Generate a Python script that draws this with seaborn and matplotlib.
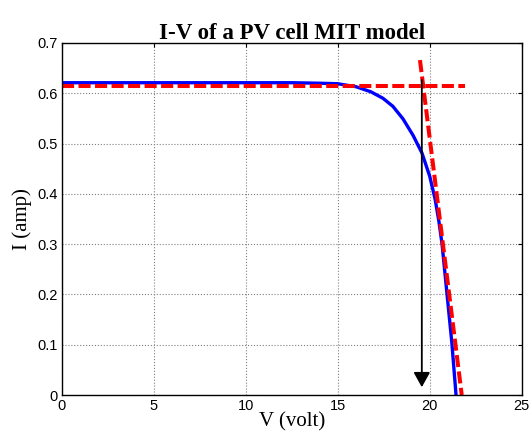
import numpy as np
import pandas as pd
import matplotlib
matplotlib.use("Agg")
import matplotlib.pyplot as plt
import seaborn as sns

# blue I-V curve
v_curve = [0, 5, 10, 12.5, 14, 15, 16.0, 16.8, 17.46, 18.0, 18.55, 19.1,
           19.58, 20.0, 20.29, 20.5, 20.67, 20.92, 21.2, 21.43]
i_curve = [0.621, 0.621, 0.621, 0.621, 0.62, 0.619, 0.613, 0.603, 0.59, 0.574,
           0.549, 0.516, 0.481, 0.435, 0.39, 0.345, 0.3, 0.208, 0.105, 0.0]

# red dashed asymptotes
v_flat = [0, 21.9]
i_flat = [0.614, 0.614]
v_slope = [19.47, 21.74]
i_slope = [0.666, 0.0]

# arrow at the knee
v_arrow = 19.57
i_arrow = [0.632, 0.01]

xticks = [0, 5, 10, 15, 20, 25]
yticks = [0, 0.1, 0.2, 0.3, 0.4, 0.5, 0.6, 0.7]

sns.set_style("white")
plt.rcParams['font.family'] = ['Liberation Sans', 'DejaVu Sans']
plt.rcParams['text.color'] = 'black'
plt.rcParams['axes.labelcolor'] = 'black'

fig = plt.figure(figsize=(5.3, 4.41), dpi=100)
ax = fig.add_axes([0.1164, 0.1043, 0.868, 0.7982])

curve = pd.DataFrame({'V': v_curve, 'I': i_curve})
flat = pd.DataFrame({'V': v_flat, 'I': i_flat})
slope = pd.DataFrame({'V': v_slope, 'I': i_slope})

sns.lineplot(data=curve, x='V', y='I', color='#0000ff', lw=2.4, sort=False, ax=ax)
sns.lineplot(data=flat, x='V', y='I', color='#ff0000', lw=2.9, sort=False, ax=ax)
ax.lines[-1].set_dashes((3, 1.1))
sns.lineplot(data=slope, x='V', y='I', color='#ff0000', lw=2.9, sort=False, ax=ax)
ax.lines[-1].set_dashes((3, 1.1))

ax.annotate('', xy=(v_arrow, i_arrow[1]), xytext=(v_arrow, i_arrow[0]),
            arrowprops=dict(arrowstyle='-|>,head_length=0.9,head_width=0.5',
                            color='black', lw=1.3))

ax.set_xlim(0, 25)
ax.set_ylim(0, 0.7)
ax.set_xticks(xticks)
ax.set_yticks(yticks)
ax.set_xticklabels([str(t) for t in xticks])
ax.set_yticklabels(['0', '0.1', '0.2', '0.3', '0.4', '0.5', '0.6', '0.7'])
ax.tick_params(direction='in', length=3, width=0.8, top=True, right=True,
               labelsize=10.5, colors='black', pad=3)
ax.grid(True, linestyle=':', color='#808080', lw=0.8)
for s in ax.spines.values():
    s.set_color('black')
    s.set_linewidth(1.0)

ax.set_title('I-V of a PV cell MIT model', fontsize=16.5, fontweight='bold',
             family='Liberation Serif', pad=3, color='black')
ax.set_xlabel('V (volt)', fontsize=15, family='Liberation Serif', labelpad=-1)
ax.set_ylabel('I (amp)', fontsize=15, family='Liberation Serif', labelpad=4)

fig.savefig('out.png', dpi=100)
